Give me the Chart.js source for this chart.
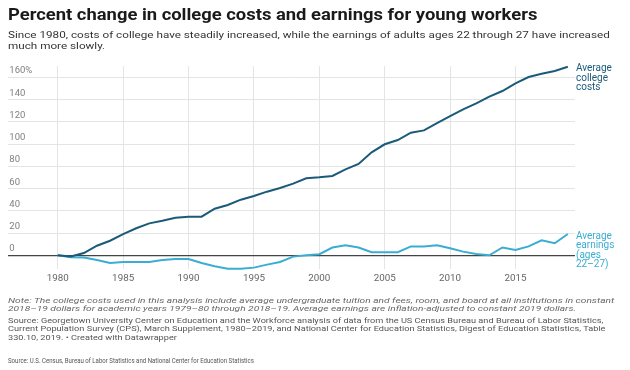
<!DOCTYPE html>
<html>
<head>
<meta charset="utf-8">
<script src="https://cdn.jsdelivr.net/npm/chart.js@4.4.0/dist/chart.umd.min.js"></script>
<style>
  html, body { margin: 0; padding: 0; background: #fff; }
  body { width: 630px; height: 370px; position: relative; overflow: hidden; font-family: Roboto, "Noto Sans", sans-serif; }
  #wrap { position: absolute; left: 0; top: 0; width: 630px; height: 370px; }
  .t { position: absolute; left: 8px; white-space: nowrap; transform-origin: 0 0; }
  #title { top: 7.2px; font-size: 18.4px; line-height: 18px; font-weight: 700; color: #1a1a1a; transform: scaleY(0.86); }
  #sub { top: 29.3px; font-size: 11.7px; line-height: 13.6px; color: #333; transform: scaleY(0.85); }
  #note { top: 295.9px; font-size: 10.2px; line-height: 11.3px; font-style: italic; color: #666; transform: scaleY(0.75); }
  #src { top: 315.9px; font-size: 9.2px; line-height: 11.3px; color: #555; transform: scaleY(0.75); }
  #src2 { top: 357.6px; font-size: 6.9px; line-height: 7px; color: #555; transform: scaleX(0.88); }
</style>
</head>
<body>
<div id="wrap"><canvas id="c"></canvas></div>
<div class="t" id="title">Percent change in college costs and earnings for young workers</div>
<div class="t" id="sub">Since 1980, costs of college have steadily increased, while the earnings of adults ages 22 through 27 have increased<br>much more slowly.</div>
<div class="t" id="note">Note: The college costs used in this analysis include average undergraduate tuition and fees, room, and board at all institutions in constant<br>2018–19 dollars for academic years 1979–80 through 2018–19. Average earnings are inflation-adjusted to constant 2019 dollars.</div>
<div class="t" id="src">Source: Georgetown University Center on Education and the Workforce analysis of data from the US Census Bureau and Bureau of Labor Statistics,<br>Current Population Survey (CPS), March Supplement, 1980–2019, and National Center for Education Statistics, Digest of Education Statistics, Table<br>330.10, 2019. • Created with Datawrapper</div>
<div class="t" id="src2">Source: U.S. Census, Bureau of Labor Statistics and National Center for Education Statistics</div>
<script>
const years = [1980,1981,1982,1983,1984,1985,1986,1987,1988,1989,
               1990,1991,1992,1993,1994,1995,1996,1997,1998,1999,
               2000,2001,2002,2003,2004,2005,2006,2007,2008,2009,
               2010,2011,2012,2013,2014,2015,2016,2017,2018,2019];
const collegeCosts = [0,-1,2,8.6,13.1,19.1,24.3,28.7,31.1,33.8,
                      34.7,34.7,41.9,45.2,50,53.3,57.2,60.5,64.4,69.2,
                      70.1,71.3,77.3,82.1,92.6,99.8,103.6,110.2,112.3,118.9,
                      125.2,131.2,136.6,142.6,147.7,154.6,160.3,163.2,165.7,169.5];
const earnings = [0,-1.8,-2.1,-4.2,-6.9,-6,-6,-6,-4.2,-3.3,
                  -3.3,-6.9,-9.9,-12,-12,-11.1,-8.4,-6,-1.2,0,
                  1,7,9,7,2.7,2.7,2.7,8,8,9,
                  6.3,3.3,1.2,0,7,4.8,8,13.5,10.8,19.1];
const xTicks = [1980,1985,1990,1995,2000,2005,2010,2015];
const yTicks = [0,20,40,60,80,100,120,140,160];
const seriesLabels = [["Average","college","costs"],["Average","earnings","(ages","22–27)"]];

const COSTS_COLOR = '#1c5a7a';
const EARN_COLOR = '#3aadd2';

const endLabels = {
  id: 'endLabels',
  afterDatasetsDraw(chart) {
    const ctx = chart.ctx;
    const ys = chart.scales.y;
    const area = chart.chartArea;
    ctx.save();
    ctx.font = '10px Roboto';
    ctx.textAlign = 'left';
    ctx.textBaseline = 'middle';
    chart.data.datasets.forEach((ds, i) => {
      const last = ds.data[ds.data.length - 1].y;
      const y0 = ys.getPixelForValue(last) + 2;
      ctx.fillStyle = ds.borderColor;
      seriesLabels[i].forEach((line, j) => {
        ctx.fillText(line, area.right + 1, y0 + j * 9.5);
      });
    });
    ctx.restore();
  }
};

new Chart(document.getElementById('c'), {
  type: 'line',
  data: {
    datasets: [
      { label: 'Average college costs', data: years.map((y, i) => ({x: y, y: collegeCosts[i]})),
        borderColor: COSTS_COLOR, borderWidth: 2, pointRadius: 0, tension: 0, clip: 4 },
      { label: 'Average earnings (ages 22–27)', data: years.map((y, i) => ({x: y, y: earnings[i]})),
        borderColor: EARN_COLOR, borderWidth: 2, pointRadius: 0, tension: 0, clip: 4 }
    ]
  },
  options: {
    responsive: true,
    maintainAspectRatio: false,
    animation: false,
    devicePixelRatio: 1,
    layout: { padding: { left: 8.3, right: 55, top: 66.2, bottom: 80.7 } },
    plugins: { legend: { display: false }, tooltip: { enabled: false } },
    scales: {
      x: {
        type: 'linear',
        min: 1976.22,
        max: 2019.55,
        afterBuildTicks(scale) { scale.ticks = xTicks.map(v => ({value: v})); },
        afterFit(scale) { scale.height = 20; },
        border: { display: false },
        grid: { color: '#e4e4e4', lineWidth: 1, drawTicks: false },
        ticks: { padding: 3, color: '#666', font: { family: 'Roboto', size: 9.8 },
                 maxRotation: 0, autoSkip: false, callback: v => String(v) }
      },
      y: {
        min: -12.6,
        max: 170,
        afterBuildTicks(scale) { scale.ticks = yTicks.map(v => ({value: v})); },
        afterFit(scale) { scale.width = 0; },
        border: { display: false },
        grid: {
          drawTicks: false,
          color: c => c.tick && c.tick.value === 0 ? '#444' : '#e4e4e4',
          lineWidth: c => c.tick && c.tick.value === 0 ? 1.3 : 1
        },
        ticks: { mirror: true, padding: 1, labelOffset: -6.3, color: '#808080',
                 font: { family: 'Roboto', size: 9.5 },
                 callback: v => v === 160 ? '160%' : String(v) }
      }
    }
  },
  plugins: [endLabels]
});
</script>
</body>
</html>
